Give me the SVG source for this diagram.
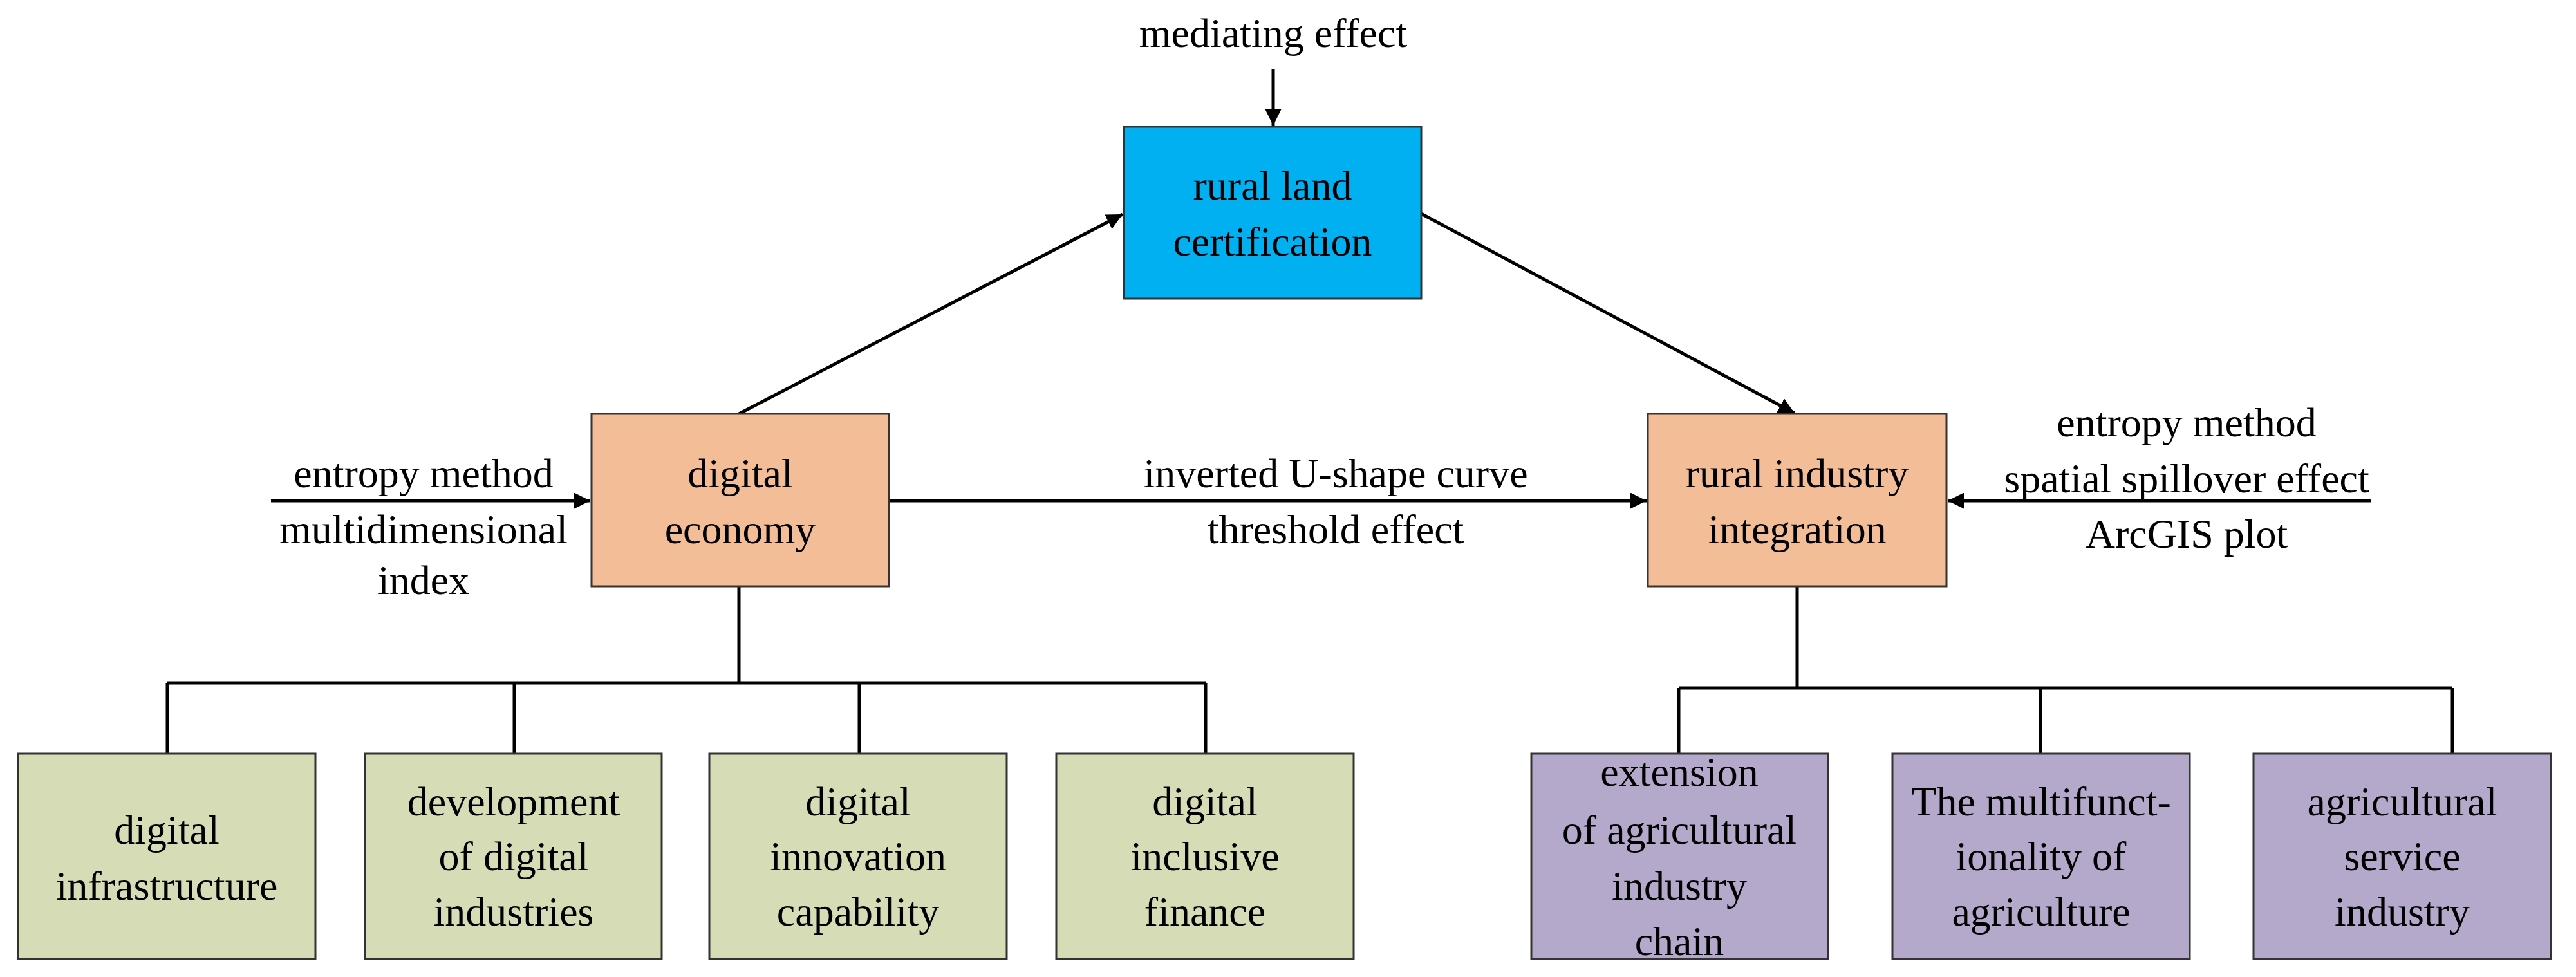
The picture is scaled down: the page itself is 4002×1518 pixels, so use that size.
<svg xmlns="http://www.w3.org/2000/svg" width="4002" height="1518" viewBox="0 0 4002 1518">
<style>
text{font-family:"Liberation Serif","Times New Roman",serif;font-size:64px;text-anchor:middle;fill:#000}
.b{stroke:#333;stroke-width:3}
.c{stroke:#000;stroke-width:5;fill:none}
.t{stroke:#000;stroke-width:5;fill:none}
</style>
<defs>
<marker id="a" viewBox="0 0 10 10" refX="10" refY="5" markerWidth="5" markerHeight="5" orient="auto" markerUnits="strokeWidth"><path d="M0,0L10,5L0,10z" fill="#000"/></marker>
</defs>
<rect width="4002" height="1518" fill="#fff"/>
<g id="connectors">
<line class="c" x1="1978" y1="107" x2="1978" y2="195" marker-end="url(#a)"/>
<line class="c" x1="1148" y1="643" x2="1744" y2="333" marker-end="url(#a)"/>
<line class="c" x1="2208" y1="332" x2="2788" y2="642" marker-end="url(#a)"/>
<line class="c" x1="421" y1="778" x2="917" y2="778" marker-end="url(#a)"/>
<line class="c" x1="1381" y1="778" x2="2558" y2="778" marker-end="url(#a)"/>
<line class="c" x1="3683" y1="778" x2="3026" y2="778" marker-end="url(#a)"/>
<path class="t" d="M1148,911V1061M260,1061H1873M260,1061V1171M799,1061V1171M1335,1061V1171M1873,1061V1171"/>
<path class="t" d="M2792,911V1069M2608,1069H3810M2608,1069V1171M3170,1069V1171M3810,1069V1171"/>
</g>
<g id="labels">
<text x="1978" y="73">mediating effect</text>
<text x="658" y="757">entropy method</text>
<text x="658" y="844">multidimensional</text>
<text x="658" y="923">index</text>
<text x="2075" y="757">inverted U-shape curve</text>
<text x="2075" y="844">threshold effect</text>
<text x="3397" y="678">entropy method</text>
<text x="3397" y="765">spatial spillover effect</text>
<text x="3397" y="851">ArcGIS plot</text>
</g>
<g id="rural-land-certification"><rect class="b" x="1746" y="197" width="462" height="267" fill="#00B0F0"/><text x="1977" y="310">rural land</text><text x="1977" y="397">certification</text></g>
<g id="digital-economy"><rect class="b" x="919" y="643" width="462" height="268" fill="#F3BD97"/><text x="1150" y="757">digital</text><text x="1150" y="844">economy</text></g>
<g id="rural-industry-integration"><rect class="b" x="2560" y="643" width="464" height="268" fill="#F3BD97"/><text x="2792" y="757">rural industry</text><text x="2792" y="844">integration</text></g>
<g id="digital-infrastructure"><rect class="b" x="28" y="1171" width="462" height="319" fill="#D6DCB5"/><text x="259" y="1311">digital</text><text x="259" y="1398">infrastructure</text></g>
<g id="development-digital-industries"><rect class="b" x="567" y="1171" width="461" height="319" fill="#D6DCB5"/><text x="798" y="1267">development</text><text x="798" y="1352">of digital</text><text x="798" y="1438">industries</text></g>
<g id="digital-innovation"><rect class="b" x="1102" y="1171" width="462" height="319" fill="#D6DCB5"/><text x="1333" y="1267">digital</text><text x="1333" y="1352">innovation</text><text x="1333" y="1438">capability</text></g>
<g id="digital-inclusive-finance"><rect class="b" x="1641" y="1171" width="462" height="319" fill="#D6DCB5"/><text x="1872" y="1267">digital</text><text x="1872" y="1352">inclusive</text><text x="1872" y="1438">finance</text></g>
<g id="extension-chain"><rect class="b" x="2379" y="1171" width="461" height="319" fill="#B4A8CB"/><text x="2609" y="1221">extension</text><text x="2609" y="1311">of agricultural</text><text x="2609" y="1398">industry</text><text x="2609" y="1484">chain</text></g>
<g id="multifunctionality"><rect class="b" x="2940" y="1171" width="462" height="319" fill="#B4A8CB"/><text x="3171" y="1267">The multifunct-</text><text x="3171" y="1352">ionality of</text><text x="3171" y="1438">agriculture</text></g>
<g id="agricultural-service"><rect class="b" x="3501" y="1171" width="462" height="319" fill="#B4A8CB"/><text x="3732" y="1267">agricultural</text><text x="3732" y="1352">service</text><text x="3732" y="1438">industry</text></g>
</svg>
